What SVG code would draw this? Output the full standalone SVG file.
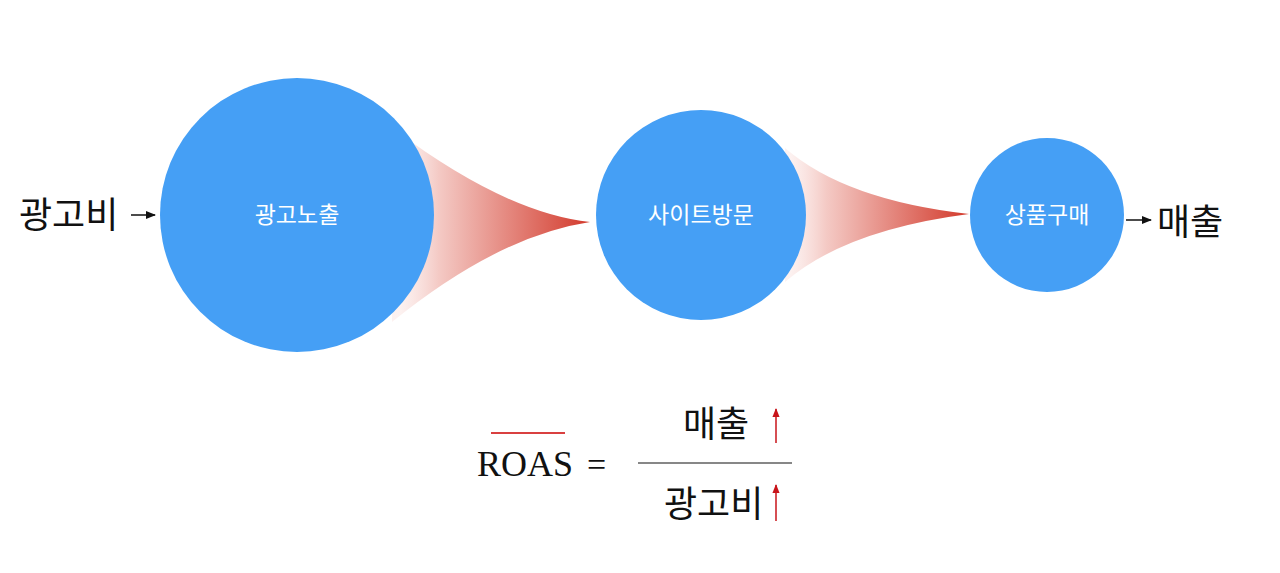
<svg xmlns="http://www.w3.org/2000/svg" width="1280" height="573" viewBox="0 0 1280 573">
<style>
.node{fill:#459ff5}
.lbl{font-family:"Noto Sans CJK KR","Noto Sans",sans-serif;font-size:23px;fill:#ffffff;text-anchor:middle}
.big{font-family:"Noto Sans CJK KR","Noto Sans",sans-serif;font-size:36px;fill:#111}
.ser{font-family:"Liberation Serif","Noto Sans CJK KR",serif;fill:#111}
.red{stroke:#c8141a;stroke-width:1.5;fill:none}
</style>
<defs>
<linearGradient id="g1" gradientUnits="userSpaceOnUse" x1="400" y1="0" x2="592" y2="0">
<stop offset="0" stop-color="#fbe9e7" stop-opacity="0.6"/>
<stop offset="0.2" stop-color="#f4cac5"/>
<stop offset="1" stop-color="#d2382a"/>
</linearGradient>
<linearGradient id="g2" gradientUnits="userSpaceOnUse" x1="790" y1="0" x2="970" y2="0">
<stop offset="0" stop-color="#fbe9e7" stop-opacity="0.6"/>
<stop offset="0.2" stop-color="#f4cac5"/>
<stop offset="1" stop-color="#d2382a"/>
</linearGradient>
<marker id="ah" viewBox="0 0 10 10" refX="9" refY="5" markerWidth="7" markerHeight="7" orient="auto"><path d="M0,1 L10,5 L0,9 z" fill="#111"/></marker>
<marker id="ahr" viewBox="0 0 10 10" refX="9" refY="5" markerWidth="6" markerHeight="6" orient="auto"><path d="M0,1 L10,5 L0,9 z" fill="#c8141a"/></marker>
</defs>
<g id="connectors">
<path d="M395,130 Q506,213 590,222 Q498,236 392,322 Z" fill="url(#g1)"/>
<path d="M785,148 Q845,200 969,214 Q845,230 785,282 Z" fill="url(#g2)"/>
<line x1="131" y1="215" x2="155" y2="215" stroke="#111" stroke-width="1.5" marker-end="url(#ah)"/>
<line x1="1126" y1="220" x2="1151" y2="220" stroke="#111" stroke-width="1.5" marker-end="url(#ah)"/>
</g>
<g id="node-cost-in"><text class="big" x="19" y="228">광고비</text></g>
<g id="node-exposure"><circle class="node" cx="297" cy="215" r="137"/><text class="lbl" x="297" y="223">광고노출</text></g>
<g id="node-visit"><circle class="node" cx="701" cy="215" r="105"/><text class="lbl" x="701" y="223">사이트방문</text></g>
<g id="node-purchase"><circle class="node" cx="1047" cy="215" r="77"/><text class="lbl" x="1047" y="223">상품구매</text></g>
<g id="node-revenue-out"><text class="big" x="1157" y="235">매출</text></g>
<g id="formula">
<line x1="491" y1="433" x2="565" y2="433" stroke="#c00" stroke-width="1.3"/>
<text class="ser" x="477" y="476" font-size="36">ROAS</text>
<text class="ser" x="587" y="476" font-size="34">=</text>
<line x1="638" y1="463" x2="792" y2="463" stroke="#111" stroke-width="1.2"/>
<text class="big" x="683" y="437">매출</text>
<text class="big" x="664" y="517">광고비</text>
<line class="red" x1="776" y1="443" x2="776" y2="409" marker-end="url(#ahr)"/>
<line class="red" x1="776" y1="521" x2="776" y2="485" marker-end="url(#ahr)"/>
</g>
</svg>
